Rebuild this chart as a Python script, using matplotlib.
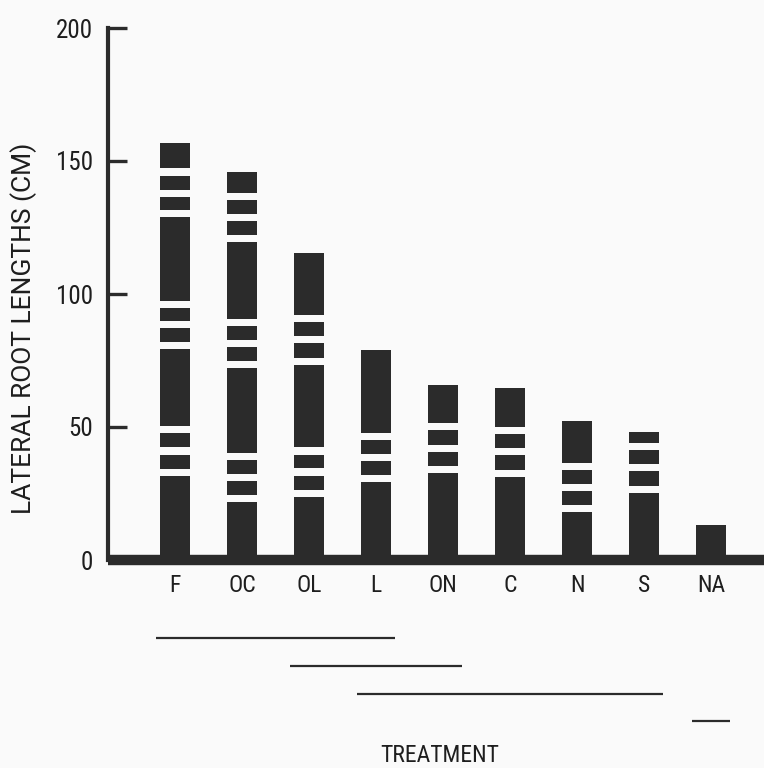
import numpy as np
import matplotlib
matplotlib.use("Agg")
import matplotlib.pyplot as plt
from matplotlib import font_manager as fm

# Treatments and the stacked lateral-root segment lengths (cm), bottom to top
treatments = ["F", "OC", "OL", "L", "ON", "C", "N", "S", "NA"]
seg_F = [31.6, 5.3, 5.3, 29.1, 5.0, 5.0, 31.3, 5.0, 5.3, 9.4]
seg_OC = [21.7, 5.3, 5.3, 31.7, 5.3, 5.1, 28.8, 5.2, 5.3, 7.7]
seg_OL = [23.8, 5.2, 5.2, 31.1, 5.3, 5.3, 23.2]
seg_L = [29.4, 5.0, 5.3, 31.1]
seg_ON = [32.6, 5.4, 5.3, 14.4]
seg_C = [31.3, 5.4, 5.3, 14.5]
seg_N = [17.9, 5.2, 5.3, 15.7]
seg_S = [25.3, 5.4, 5.3, 4.1]
seg_NA = [13.2]
segments = [seg_F, seg_OC, seg_OL, seg_L, seg_ON, seg_C, seg_N, seg_S, seg_NA]

# Treatments not significantly different (first index, last index)
groups = [(0, 3), (2, 4), (3, 7), (8, 8)]

y_ticks = [0, 50, 100, 150, 200]

GAP = 2.7          # white gap between stacked segments
BAR_W = 0.46
INK = "#2b2b2b"
TXT = "#1e1e1e"
BG = "#fafafa"


def pick_font(candidates, default="DejaVu Sans"):
    available = {f.name for f in fm.fontManager.ttflist}
    for cand in candidates:
        if cand in available:
            return cand
    return default


# Condensed face for most labels, a wider face for the long axis title
FONT = pick_font(["Roboto Condensed", "Open Sans Condensed", "Archivo Narrow",
                  "PT Sans Narrow", "Liberation Sans Narrow", "Roboto"])
FONT_WIDE = pick_font(["Roboto", "Open Sans", "DejaVu Sans"])
plt.rcParams["font.family"] = [FONT, "DejaVu Sans"]

fig = plt.figure(figsize=(7.64, 7.68), dpi=100, facecolor=BG)
ax = fig.add_axes([108 / 764, 1 - 560 / 768, 1 - 108 / 764, (560 - 28) / 768])
ax.set_facecolor("none")

x = np.arange(len(treatments))
for xi, segs in zip(x, segments):
    segs = np.asarray(segs)
    bottoms = np.concatenate([[0.0], np.cumsum(segs + GAP)[:-1]])
    ax.bar(np.full(len(segs), xi), segs, bottom=bottoms, width=BAR_W,
           color=INK, linewidth=0, zorder=1)

ax.set_xlim(-1, 8.79)
ax.set_ylim(0, 200)

for side in ("top", "right"):
    ax.spines[side].set_visible(False)
ax.spines["left"].set_linewidth(3)
ax.spines["left"].set_color(INK)
ax.spines["bottom"].set_linewidth(7.5)
ax.spines["bottom"].set_color(INK)
ax.spines["bottom"].set_capstyle("butt")

ax.set_yticks(y_ticks)
ax.set_yticklabels([str(t) for t in y_ticks])
ax.tick_params(axis="y", direction="in", length=14, width=2.4, color=INK,
               labelsize=18, pad=11, labelcolor=TXT)
ax.set_xticks(x)
ax.set_xticklabels(treatments)
ax.tick_params(axis="x", length=0, labelsize=17, pad=10, labelcolor=TXT)

# Significance underlines below the treatment labels
for k, (a, b) in enumerate(groups):
    yk = -29.5 - 10.4 * k
    ax.plot([a - BAR_W / 2 - 0.05, b + BAR_W / 2 + 0.05], [yk, yk],
            color=INK, lw=1.6, clip_on=False, solid_capstyle="butt")

fig.text(24 / 764, 1 - 328 / 768, "LATERAL ROOT LENGTHS (CM)", rotation=90,
         ha="center", va="center", fontsize=19, color=TXT,
         family=[FONT_WIDE, "DejaVu Sans"])
fig.text(440 / 764, 1 - 756 / 768, "TREATMENT", ha="center", va="center",
         fontsize=17, color=TXT)

fig.savefig("out.png", dpi=100, facecolor=BG)
